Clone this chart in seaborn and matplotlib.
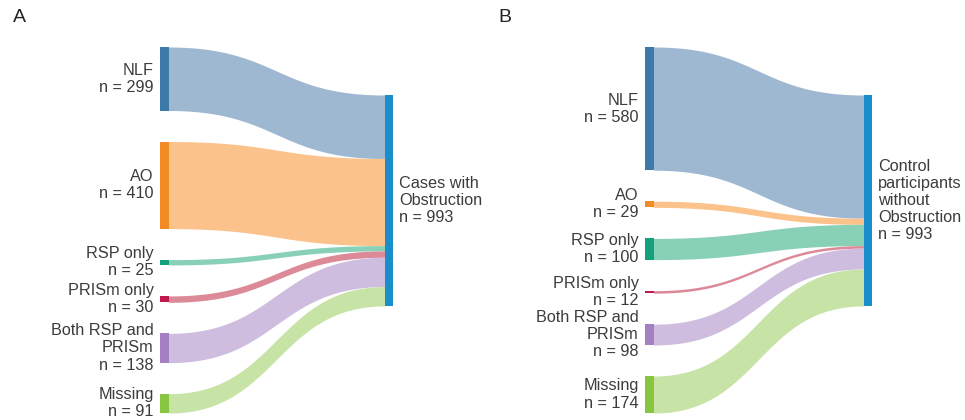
import numpy as np
import matplotlib
matplotlib.use("Agg")
import matplotlib.pyplot as plt
import seaborn as sns

# ---- data ----
categories = ["NLF", "AO", "RSP only", "PRISm only", "Both RSP and\nPRISm", "Missing"]
counts_a = [299, 410, 25, 30, 138, 91]
counts_b = [580, 29, 100, 12, 98, 174]
target_a = "Cases with\nObstruction"
target_b = "Control\nparticipants\nwithout\nObstruction"
total_a = 993
total_b = 993
panel_labels = ["A", "B"]

# ---- style ----
node_colors = ["#3d7aa9", "#f28a26", "#12a17b", "#c1174f", "#a280c1", "#88c541"]
link_colors = ["#9fb8d2", "#fbc28c", "#88d1b6", "#dd8a98", "#cfbde0", "#c8e3a6"]
target_color = "#1a8ecb"
text_color = "#3c3c3c"

sns.set_theme(style="white")
plt.rcParams["font.family"] = ["Liberation Sans", "DejaVu Sans"]

W, H = 965, 420
fig = plt.figure(figsize=(W / 100, H / 100), dpi=100)
fig.patch.set_facecolor("white")

GAP = 146            # vertical gap between source nodes (value units)
RIGHT_TOP_FRAC = 48 / 366
NODE_W_PX = 8.5
FS = 11.7


def px_axes(x0, x1, y0, y1):
    return fig.add_axes([x0 / W, 1 - y1 / H, (x1 - x0) / W, (y1 - y0) / H])


def sankey(ax, counts, target_label, total, width_px):
    nw = NODE_W_PX / width_px
    n = len(counts)
    span = sum(counts) + GAP * (n - 1)
    ax.set_xlim(0, 1)
    ax.set_ylim(span, 0)
    ax.axis("off")

    tops = []
    y = 0
    for c in counts:
        tops.append(y)
        y += c + GAP

    rt = RIGHT_TOP_FRAC * span
    t = np.linspace(0, 1, 200)
    x0, x1 = nw, 1 - nw
    xm = (x0 + x1) / 2
    bx = (1 - t) ** 3 * x0 + 3 * (1 - t) ** 2 * t * xm + 3 * (1 - t) * t ** 2 * xm + t ** 3 * x1
    ry = rt
    for i, c in enumerate(counts):
        y0 = tops[i]
        y1 = ry
        by = (1 - t) ** 3 * y0 + 3 * (1 - t) ** 2 * t * y0 + 3 * (1 - t) * t ** 2 * y1 + t ** 3 * y1
        ax.fill_between(bx, by, by + c, color=link_colors[i], lw=0, zorder=1)
        ry += c

    ax.bar([0] * n, counts, bottom=tops, width=nw, align="edge",
           color=node_colors, lw=0, zorder=3)
    ax.bar([1 - nw], [sum(counts)], bottom=[rt], width=nw, align="edge",
           color=target_color, lw=0, zorder=3)

    for i, c in enumerate(counts):
        ax.annotate(f"{categories[i]}\nn = {c}", xy=(0, tops[i] + c / 2),
                    xycoords="data", xytext=(-4.5, 0), textcoords="offset points",
                    ha="right", va="center", multialignment="right",
                    fontsize=FS, color=text_color, linespacing=1.17,
                    annotation_clip=False)
    ax.annotate(f"{target_label}\nn = {total}", xy=(1, rt + sum(counts) / 2),
                xycoords="data", xytext=(4.5, 0), textcoords="offset points",
                ha="left", va="center", multialignment="left",
                fontsize=FS, color=text_color, linespacing=1.17,
                annotation_clip=False)


ax_a = px_axes(160, 393, 47, 413)
sankey(ax_a, counts_a, target_a, total_a, 233)
ax_b = px_axes(645, 872, 47, 413)
sankey(ax_b, counts_b, target_b, total_b, 227)

fig.text(13 / W, 1 - 9 / H, panel_labels[0], fontsize=14, va="top", ha="left", color="#222222")
fig.text(498 / W, 1 - 9 / H, panel_labels[1], fontsize=14, va="top", ha="left", color="#222222")

fig.savefig("out.png", dpi=100, facecolor="white")
